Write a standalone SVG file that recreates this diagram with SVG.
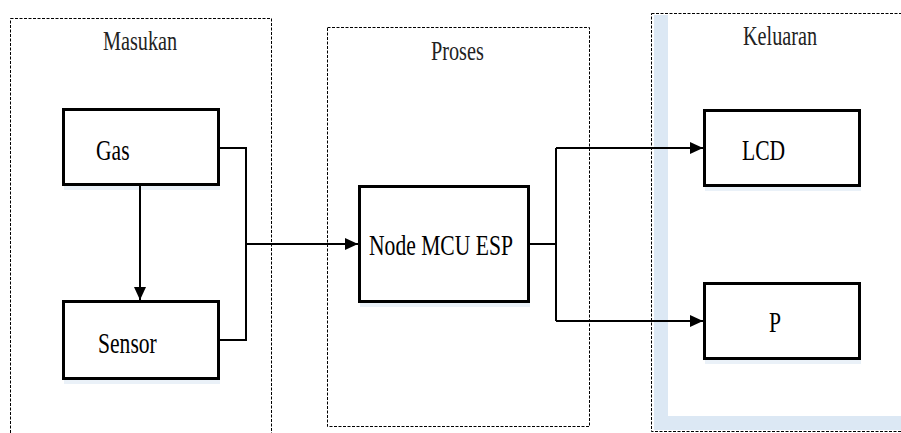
<svg xmlns="http://www.w3.org/2000/svg" width="901" height="433" viewBox="0 0 901 433">
<style>
.grp{fill:none;stroke:#000;stroke-width:1;stroke-dasharray:3,1.5}
.box{fill:#fff;stroke:#000;stroke-width:3}
.sh{fill:#dce8f4}
.lbl{fill:#222;font-size:27px}
.txt{fill:#000;font-size:30px}
.con{fill:none;stroke:#000;stroke-width:2}
</style>
<defs>
<marker id="arr" markerWidth="13" markerHeight="12" refX="13" refY="6" orient="auto" markerUnits="userSpaceOnUse">
<path d="M0,0 L13,6 L0,12 Z" fill="#000"/>
</marker>
</defs>
<rect width="901" height="433" fill="#fff"/>
<g font-family="Liberation Serif, Times New Roman, serif">
<g id="masukan">
<rect class="grp" x="10.5" y="18.5" width="261" height="430"/>
<text class="lbl" transform="translate(103,50) scale(0.75,1)">Masukan</text>
</g>
<g id="proses">
<rect class="grp" x="327.5" y="27.5" width="262" height="399"/>
<text class="lbl" transform="translate(431,60) scale(0.75,1)">Proses</text>
</g>
<g id="keluaran">
<rect class="sh" x="654" y="15" width="14" height="415"/>
<rect class="sh" x="654" y="416" width="247" height="14"/>
<rect class="grp" x="651.5" y="13.5" width="260" height="418"/>
<text class="lbl" transform="translate(743,45) scale(0.75,1)">Keluaran</text>
</g>
<g id="gas">
<rect class="sh" x="64" y="186" width="156" height="4" opacity="0.6"/>
<rect class="box" x="63.5" y="109.5" width="155" height="75"/>
<text class="txt" transform="translate(96,160) scale(0.72,1)">Gas</text>
</g>
<g id="sensor">
<rect class="sh" x="64" y="380" width="156" height="4" opacity="0.6"/>
<rect class="box" x="63.5" y="301.5" width="155" height="77"/>
<text class="txt" transform="translate(98,353) scale(0.72,1)">Sensor</text>
</g>
<g id="nodemcu">
<rect class="sh" x="360" y="303" width="170" height="4" opacity="0.6"/>
<rect class="box" x="359.5" y="186.5" width="169" height="115"/>
<text class="txt" transform="translate(369,255) scale(0.72,1)">Node MCU ESP</text>
</g>
<g id="lcd">
<rect class="sh" x="705" y="187" width="156" height="4" opacity="0.6"/>
<rect class="box" x="704.5" y="110.5" width="155" height="75"/>
<text class="txt" transform="translate(742,160) scale(0.72,1)">LCD</text>
</g>
<g id="p">
<rect class="sh" x="705" y="360" width="156" height="4" opacity="0.6"/>
<rect class="box" x="704.5" y="283.5" width="155" height="75"/>
<text class="txt" transform="translate(769,332) scale(0.72,1)">P</text>
</g>
</g>
<g id="connectors">
<path class="con" d="M140,186 V300" marker-end="url(#arr)"/>
<path class="con" d="M220,148 H246 V340 H220"/>
<path class="con" d="M246,244 H358" marker-end="url(#arr)"/>
<path class="con" d="M530,244 H556"/>
<path class="con" d="M556,148 V321"/>
<path class="con" d="M556,148 H703" marker-end="url(#arr)"/>
<path class="con" d="M556,321 H703" marker-end="url(#arr)"/>
</g>
</svg>
